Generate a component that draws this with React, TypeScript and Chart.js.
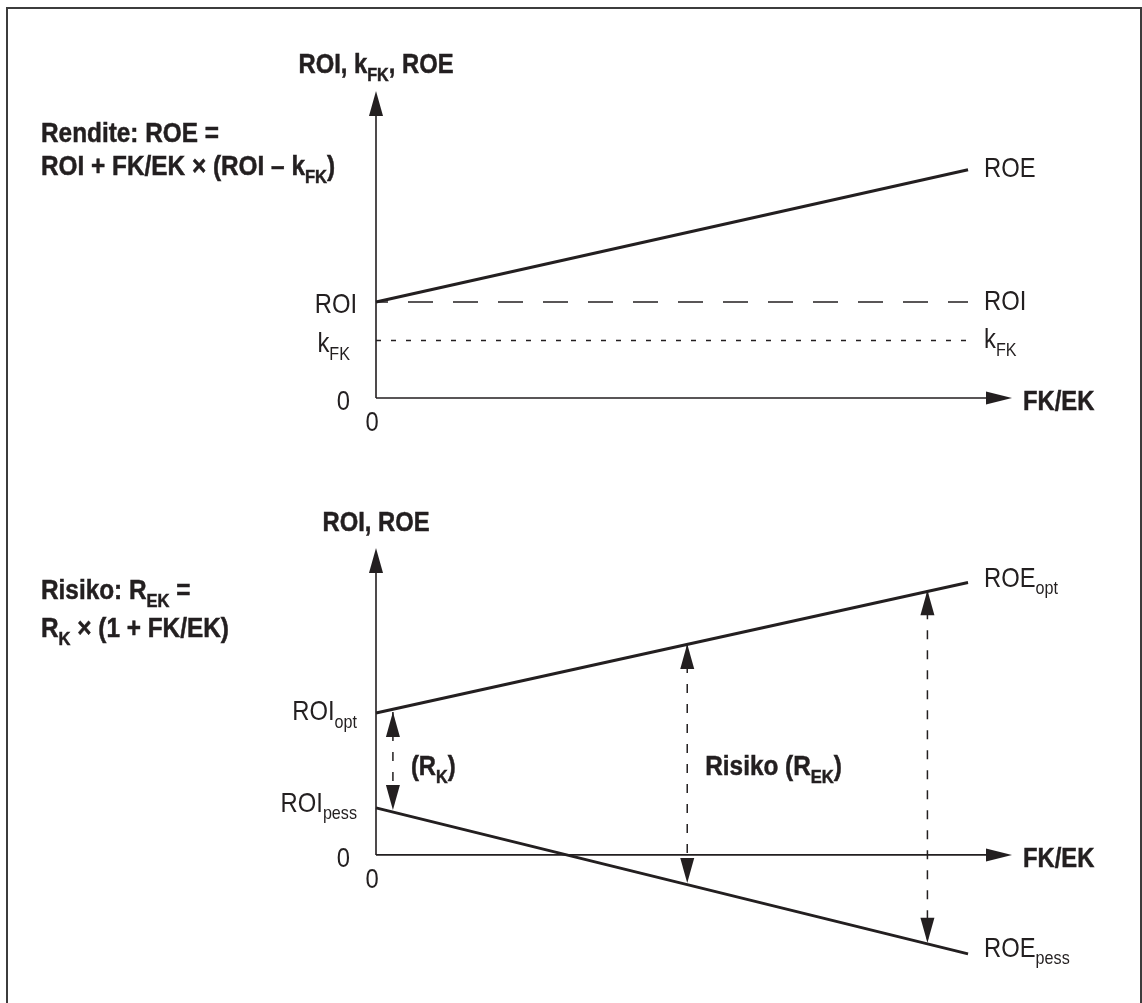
import React, { useEffect, useRef } from "react";
import { Chart, registerables } from "chart.js";
Chart.register(...registerables);

// ---------- data (FK/EK on x, rates on y, arbitrary schematic units) ----------
// Top panel: Rendite
const fkEk = [0, 3.5];
const roeTop = [5, 11.9];
const roiTop = [5, 5];
const kFkTop = [3, 3];
const xAxisEnd = 3.76;
const yAxisEnd = 16;

// Bottom panel: Risiko
const roeOpt = [7.4, 14.2];
const roePess = [2.45, -5.16];
const bottomYMin = -6;
const riskX = [0.1, 1.84, 3.26];
const riskUpper = [7.45, 10.99, 13.8];
const riskLower = [2.34, -1.46, -4.58];

// ---------- styles ----------
const INK = "#231f20";
const FONT = '"Liberation Sans", Arimo, Arial, sans-serif';
const W = 1142;
const H = 1003;

type Part = { t: string; sub?: boolean };

function drawRich(
  ctx: CanvasRenderingContext2D,
  parts: Part[],
  x: number,
  baseline: number,
  size: number,
  bold: boolean,
  align: "left" | "right" | "center" = "left",
  condense = 0.85
) {
  const subSize = Math.round(size * 0.68);
  const fontFor = (p: Part) => `${bold ? "bold " : ""}${p.sub ? subSize : size}px ${FONT}`;
  let w = 0;
  for (const p of parts) {
    ctx.font = fontFor(p);
    w += ctx.measureText(p.t).width;
  }
  const scaledW = w * condense;
  const startX = align === "right" ? x - scaledW : align === "center" ? x - scaledW / 2 : x;
  ctx.save();
  ctx.fillStyle = INK;
  ctx.strokeStyle = INK;
  ctx.lineWidth = 0.5;
  ctx.textBaseline = "alphabetic";
  ctx.textAlign = "left";
  ctx.translate(startX, 0);
  ctx.scale(condense, 1);
  let cx = 0;
  for (const p of parts) {
    ctx.font = fontFor(p);
    const by = baseline + (p.sub ? size * 0.27 : 0);
    ctx.fillText(p.t, cx, by);
    if (bold) ctx.strokeText(p.t, cx, by);
    cx += ctx.measureText(p.t).width;
  }
  ctx.restore();
}

function tri(ctx: CanvasRenderingContext2D, pts: number[][]) {
  ctx.beginPath();
  ctx.moveTo(pts[0][0], pts[0][1]);
  ctx.lineTo(pts[1][0], pts[1][1]);
  ctx.lineTo(pts[2][0], pts[2][1]);
  ctx.closePath();
  ctx.fill();
}

function drawAxes(chart: any) {
  const ctx: CanvasRenderingContext2D = chart.ctx;
  const xs = chart.scales.x;
  const ys = chart.scales.y;
  const x0 = xs.getPixelForValue(0);
  const y0 = ys.getPixelForValue(0);
  const xTip = xs.getPixelForValue(xAxisEnd);
  const yTip = ys.getPixelForValue(yAxisEnd);
  ctx.save();
  ctx.strokeStyle = INK;
  ctx.fillStyle = INK;
  ctx.lineWidth = 1.6;
  ctx.beginPath();
  ctx.moveTo(x0, y0);
  ctx.lineTo(x0, yTip + 20);
  ctx.moveTo(x0, y0);
  ctx.lineTo(xTip - 20, y0);
  ctx.stroke();
  tri(ctx, [[x0, yTip], [x0 - 7, yTip + 25], [x0 + 7, yTip + 25]]);
  tri(ctx, [[xTip, y0], [xTip - 26, y0 - 6.5], [xTip - 26, y0 + 6.5]]);
  ctx.restore();
  drawRich(ctx, [{ t: "FK/EK" }], xTip + 11, y0 + 12, 28, true);
  drawRich(ctx, [{ t: "0" }], x0 - 26, y0 + 12, 28, false, "right");
  drawRich(ctx, [{ t: "0" }], x0 - 4, y0 + 33, 28, false, "center");
  return { x0, y0, xTip, yTip };
}

const topPlugin = {
  id: "topDecor",
  afterDatasetsDraw(chart: any) {
    const ctx: CanvasRenderingContext2D = chart.ctx;
    const { x0, yTip } = drawAxes(chart);
    const xs = chart.scales.x;
    const ys = chart.scales.y;
    const xEnd = xs.getPixelForValue(fkEk[1]) + 16;
    drawRich(ctx, [{ t: "ROI, k" }, { t: "FK", sub: true }, { t: ", ROE" }], x0, yTip - 18, 28, true, "center");
    drawRich(ctx, [{ t: "Rendite: ROE =" }], 41, 142, 28, true, "left", 0.87);
    drawRich(ctx, [{ t: "ROI + FK/EK × (ROI – k" }, { t: "FK", sub: true }, { t: ")" }], 41, 175, 28, true, "left", 0.87);
    // left labels
    drawRich(ctx, [{ t: "ROI" }], x0 - 19, ys.getPixelForValue(roiTop[0]) + 11, 28, false, "right");
    drawRich(ctx, [{ t: "k" }, { t: "FK", sub: true }], x0 - 26, ys.getPixelForValue(kFkTop[0]) + 12, 28, false, "right");
    // right labels
    drawRich(ctx, [{ t: "ROE" }], xEnd, ys.getPixelForValue(roeTop[1]) + 7, 28, false);
    drawRich(ctx, [{ t: "ROI" }], xEnd, ys.getPixelForValue(roiTop[1]) + 8, 28, false);
    drawRich(ctx, [{ t: "k" }, { t: "FK", sub: true }], xEnd, ys.getPixelForValue(kFkTop[1]) + 8, 28, false);
  },
};

const bottomPlugin = {
  id: "bottomDecor",
  afterDatasetsDraw(chart: any) {
    const ctx: CanvasRenderingContext2D = chart.ctx;
    const { x0, yTip } = drawAxes(chart);
    const xs = chart.scales.x;
    const ys = chart.scales.y;
    const xEnd = xs.getPixelForValue(fkEk[1]) + 16;
    drawRich(ctx, [{ t: "ROI, ROE" }], x0, yTip - 17, 28, true, "center");
    drawRich(ctx, [{ t: "Risiko: R" }, { t: "EK", sub: true }, { t: " =" }], 41, 599, 28, true, "left", 0.87);
    drawRich(ctx, [{ t: "R" }, { t: "K", sub: true }, { t: " × (1 + FK/EK)" }], 41, 637, 28, true, "left", 0.87);
    drawRich(ctx, [{ t: "ROI" }, { t: "opt", sub: true }], x0 - 19, ys.getPixelForValue(roeOpt[0]) + 7, 28, false, "right");
    drawRich(ctx, [{ t: "ROI" }, { t: "pess", sub: true }], x0 - 19, ys.getPixelForValue(roePess[0]) + 4, 28, false, "right");
    drawRich(ctx, [{ t: "ROE" }, { t: "opt", sub: true }], xEnd, ys.getPixelForValue(roeOpt[1]) + 4, 28, false);
    drawRich(ctx, [{ t: "ROE" }, { t: "pess", sub: true }], xEnd, ys.getPixelForValue(roePess[1]) + 3, 28, false);
    // arrow heads on the risk spans
    ctx.save();
    ctx.fillStyle = INK;
    riskX.forEach((v, i) => {
      const px = xs.getPixelForValue(v);
      const up = ys.getPixelForValue(riskUpper[i]);
      const lo = ys.getPixelForValue(riskLower[i]);
      tri(ctx, [[px, up], [px - 7, up + 25], [px + 7, up + 25]]);
      tri(ctx, [[px, lo], [px - 7, lo - 25], [px + 7, lo - 25]]);
    });
    ctx.restore();
    const rk = xs.getPixelForValue(riskX[0]);
    const rm = xs.getPixelForValue(riskX[1]);
    drawRich(ctx, [{ t: "(R" }, { t: "K", sub: true }, { t: ")" }], rk + 18, 775, 28, true);
    drawRich(ctx, [{ t: "Risiko (R" }, { t: "EK", sub: true }, { t: ")" }], rm + 18, 775, 28, true, "left", 0.87);
  },
};

const pts = (xs: number[], ys: number[]) => xs.map((x, i) => ({ x, y: ys[i] }));

const lineDs = (data: any[], width: number, dash: number[] = [], offset = 0) => ({
  data,
  borderColor: INK,
  borderWidth: width,
  borderDash: dash,
  borderDashOffset: offset,
  pointRadius: 0,
  fill: false,
  tension: 0,
  clip: false as any,
});

function baseOptions(yMin: number, padding: any) {
  return {
    responsive: false,
    animation: false as const,
    events: [] as any[],
    layout: { padding },
    plugins: { legend: { display: false }, tooltip: { enabled: false }, title: { display: false } },
    scales: {
      x: { type: "linear" as const, min: 0, max: xAxisEnd, display: false },
      y: { type: "linear" as const, min: yMin, max: yAxisEnd, display: false },
    },
  };
}

export default function App() {
  const topRef = useRef<HTMLCanvasElement>(null);
  const botRef = useRef<HTMLCanvasElement>(null);

  useEffect(() => {
    const top = new Chart(topRef.current!, {
      type: "line",
      data: {
        datasets: [
          lineDs(pts(fkEk, roiTop), 1.6, [25, 20], 13),
          lineDs(pts(fkEk, kFkTop), 1.4, [5, 10], 0),
          lineDs(pts(fkEk, roeTop), 3),
        ],
      },
      options: baseOptions(0, { left: 376, right: W - 1012, top: 91, bottom: H - 398 }) as any,
      plugins: [topPlugin],
    });
    const bottom = new Chart(botRef.current!, {
      type: "line",
      data: {
        datasets: [
          lineDs(pts(fkEk, roeOpt), 3),
          lineDs(pts(fkEk, roePess), 3),
          ...riskX.map((v, i) =>
            lineDs(pts([v, v], [riskUpper[i], riskLower[i]]), 1.5, [9, 11], 0)
          ),
        ],
      },
      options: baseOptions(bottomYMin, { left: 376, right: W - 1012, top: 548, bottom: H - 970 }) as any,
      plugins: [bottomPlugin],
    });
    return () => {
      top.destroy();
      bottom.destroy();
    };
  }, []);

  const abs: React.CSSProperties = { position: "absolute", left: 0, top: 0 };
  return (
    <div style={{ position: "fixed", left: 0, top: 0, width: W, height: H, overflow: "hidden", background: "#fff" }}>
      <div
        style={{
          position: "absolute",
          left: 6,
          top: 7,
          width: 1136,
          height: 1100,
          boxSizing: "border-box",
          border: "2px solid #3c3c3c",
        }}
      />
      <canvas ref={topRef} width={W} height={H} style={abs} />
      <canvas ref={botRef} width={W} height={H} style={abs} />
    </div>
  );
}
